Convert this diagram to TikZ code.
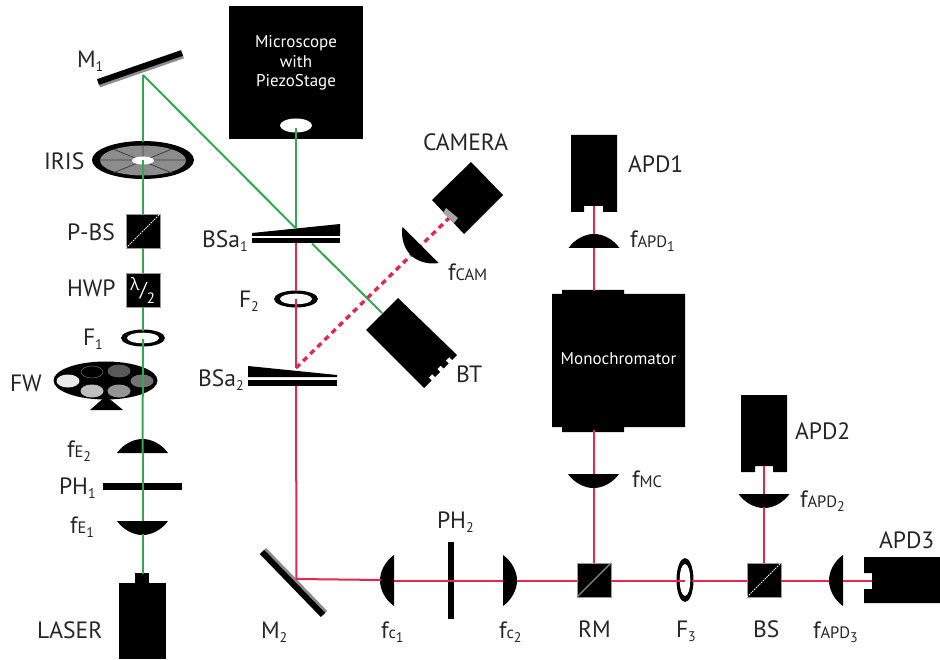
\documentclass[tikz,border=0pt]{standalone}
\usepackage{fontspec}
\setmainfont{PT Sans}
\newfontfamily\greekfont{Open Sans}
\newcommand{\sbs}[1]{\raisebox{-4pt}{\fontsize{14}{14}\selectfont #1}}
\newcommand{\smc}[1]{{\fontsize{16.5}{16}\selectfont #1}}
\newcommand{\lensat}[3]{\fill[black,shift={(#1,#2)},rotate=#3] (-25.5,0) .. controls (-19,-9) and (-9,-14) .. (0,-14) .. controls (9,-14) and (19,-9) .. (25.5,0) -- cycle;}
\newcommand{\ringat}[3]{\fill[black,shift={(#1,#2)},rotate=#3] (0,0) ellipse [x radius=22,y radius=8.5];\fill[white,shift={(#1,#2)},rotate=#3] (0,0) ellipse [x radius=16,y radius=5.3];}
\tikzset{
  every node/.style={inner sep=0pt,outer sep=0pt},
  lab/.style={anchor=base west,font=\fontsize{23.6}{24}\selectfont,text=black!85},
  wlab/.style={anchor=center,font=\fontsize{17}{19.5}\selectfont,text=white,align=center},
  cube/.style={fill=black,draw=black!40,line width=.4pt,minimum size=34pt,anchor=north west},
  green beam/.style={draw=beamgreen,line width=2pt},
  red beam/.style={draw=beamred,line width=2pt},
  filt/.style={line width=.5pt},
}
\definecolor{beamgreen}{HTML}{35A652}
\definecolor{beamred}{HTML}{E6264C}
\begin{document}
\begin{tikzpicture}[x=1pt,y=-1pt]
\path[use as bounding box,fill=white] (0,0) rectangle (940,660);

% ---- coordinates of the beam path
\coordinate (m1) at (143,75);
\coordinate (irisT) at (143,142);
\coordinate (irisC) at (143,160);
\coordinate (bt) at (382,313);
\coordinate (ms) at (295.5,128);
\coordinate (bs1a) at (295.5,228);
\coordinate (bs1b) at (296,243);
\coordinate (f2T) at (296,291);
\coordinate (f2C) at (296,299);
\coordinate (bs2a) at (296,368);
\coordinate (bs2b) at (296,386);
\coordinate (m2) at (296.5,579);
\coordinate (sensor) at (449,218);

% ---- mirrors
\draw[black!45,line width=6pt] (99,84.5) -- (183,55.5);
\draw[black,line width=6pt] (98,82) -- (182,53);
\draw[black!45,line width=6pt] (264,550) -- (325,613);
\draw[black,line width=6pt] (262,552) -- (323,615);

% ---- iris
\fill[black] (143,160) ellipse [x radius=51,y radius=19];
\fill[black!45] (143,160.5) ellipse [x radius=43,y radius=15];
\draw[black!75,line width=.8pt] (100,160)--(186,160) (143,146)--(143,175) (113,149)--(172,173) (113,173)--(172,149);
\fill[white] (143,160.5) ellipse [x radius=11,y radius=4];

% ---- cubes
\node[cube] (pbs) at (126,214) {};
\draw[white,line width=.8pt,dash pattern=on 1.5pt off 1pt] (pbs.south west) -- (pbs.north east);
\node[cube] (hwp) at (126,273) {};
\node[font=\greekfont\fontsize{17}{17}\selectfont,text=white] (lam) at (135,284) {λ};
\node[font=\fontsize{20}{20}\selectfont,text=white] (slash) at (143.5,291) {/};
\node[font=\fontsize{15}{15}\selectfont,text=white] (two) at (151,298) {2};

% ---- filter wheel
\fill[black] (90,410) -- (106,396) -- (123,410) -- cycle;
\fill[black] (105.5,380.5) ellipse [x radius=52,y radius=19];
\fill[black!8]  (68,381) ellipse [x radius=11.5,y radius=6.5];
\draw[black!55,filt,fill=black] (92,372) ellipse [x radius=11,y radius=6];
\fill[black!65] (119,371) ellipse [x radius=11.5,y radius=6.5];
\fill[black!55] (142,381) ellipse [x radius=11.5,y radius=6.5];
\fill[black!42] (119,391) ellipse [x radius=11.5,y radius=6.5];
\fill[black!25] (92,391) ellipse [x radius=11.5,y radius=6.5];

% ---- rings
\ringat{143}{338}{0}
\ringat{296}{299}{0}
\ringat{685}{580}{90}

% ---- lenses
\lensat{142.5}{453}{0}
\lensat{142.5}{521}{180}
\lensat{594}{248}{0}
\lensat{593.5}{474}{180}
\lensat{764}{494}{180}
\lensat{394}{580.5}{90}
\lensat{503}{580.5}{-90}
\lensat{843}{580.5}{90}

% ---- pinholes
\fill[black] (103,483) rectangle (182,490);
\fill[black] (448,542) rectangle (454,619);

% ---- laser
\fill[black] (119,583) rectangle (166,659);
\fill[black] (135,573) rectangle (149,584);

% ---- microscope
\fill[black] (229,6) rectangle (363,139);
\fill[white] (296,125.5) ellipse [x radius=16,y radius=7];
\node[wlab] (scope) at (296,63) {Microscope\\with\\PiezoStage};

% ---- wedges
\fill[black] (252,233) -- (340,224) -- (340,236) -- (252,236) -- cycle;
\fill[black] (252,238.5) rectangle (340,243.5);
\fill[black] (248,366) -- (337,375) -- (337,377) -- (248,377) -- cycle;
\fill[black] (248,379.5) rectangle (337,386);

% ---- dotted red beam, under camera and its lens
\draw[beamred,line width=3.4pt,dash pattern=on 5.5pt off 4.5pt] (bs2a) -- (sensor);
\lensat{420.5}{245}{135}

% ---- camera
\fill[black] (471,162) -- (503,195) -- (464,234) -- (432,200) -- cycle;
\fill[black!35] (446,208) -- (458,218) -- (454,223) -- (443,213) -- cycle;

% ---- beam tube
\fill[black] (398,298) -- (457,355) -- (452,360) -- (449.2,357.2) -- (445.7,360.7) -- (448.5,363.5) -- (443.6,368.4) -- (440.8,365.6) -- (437.2,369.2) -- (440,372) -- (435,377) -- (432.2,374.2) -- (428.7,377.7) -- (431.5,380.5) -- (424,388) -- (366,330) -- cycle;

% ---- detectors
\fill[black] (571,135) -- (617,135) -- (617,212) -- (603,212) -- (603,206) -- (584,206) -- (584,212) -- (571,212) -- cycle;
\fill[black] (741,395) -- (787,395) -- (787,472) -- (773,472) -- (773,466) -- (755,466) -- (755,472) -- (741,472) -- cycle;
\fill[black] (940,557) -- (864,557) -- (864,573) -- (872,573) -- (872,589) -- (864,589) -- (864,603) -- (940,603) -- cycle;

% ---- monochromator
\fill[black] (552,294) -- (562,294) -- (562,290) -- (624,290) -- (624,294) -- (685,294) -- (685,427) -- (624,427) -- (624,432) -- (562,432) -- (562,427) -- (552,427) -- cycle;
\node[wlab] (mono) at (618.5,359) {Monochromator};

% ---- RM and BS
\node[cube] (rm) at (577,563) {};
\draw[black!45,line width=1.4pt] (rm.south west) -- (rm.north east);
\node[cube] (bs) at (747,563) {};
\draw[white,line width=.8pt,dash pattern=on 1.5pt off 1pt] (bs.south west) -- (bs.north east);

% ---- green beam
\draw[green beam] (m1) -- (irisT);
\draw[green beam] (irisC) -- (pbs.north -| irisC);
\draw[green beam] (pbs.south -| irisC) -- (hwp.north -| irisC);
\draw[green beam] (hwp.south -| irisC) -- (143,331);
\draw[green beam] (143,339) -- (142.5,453);
\draw[green beam] (142.5,453) -- (142.5,521);
\draw[green beam] (142.5,534) -- (142.5,574);
\draw[green beam] (m1) -- (bs1a);
\draw[green beam] (312,243.5) -- (bt);
\draw[green beam] (ms) -- (bs1a);

% ---- red beam
\draw[red beam] (bs1b) -- (f2T);
\draw[red beam] (f2C) -- (bs2a);
\draw[red beam,line join=miter] (bs2b) -- (m2) -- (381,580);
\draw[red beam] (394,580.5) -- (503,580.5);
\draw[red beam] (517,580.5) -- (rm.west |- 0,580.5);
\draw[red beam] (rm.east |- 0,580.5) -- (685,580.5);
\draw[red beam] (692,580.5) -- (bs.west |- 0,580.5);
\draw[red beam] (bs.east |- 0,580.5) -- (829,580.5);
\draw[red beam] (843,580.5) -- (872,580.5);
\draw[red beam] (593.5,206) -- (593.5,234);
\draw[red beam] (593.5,248) -- (593.5,291);
\draw[red beam] (593.5,430) -- (593.5,474);
\draw[red beam] (593.5,488) -- (593.5,563);
\draw[red beam] (764,466) -- (764,494);
\draw[red beam] (764,507) -- (764,563);

% ---- labels
\node[lab] (lM1) at (77,68) {M\sbs{1}};
\node[lab] (lIRIS) at (44,170) {IRIS};
\node[lab] (lPBS) at (67,241) {P-BS};
\node[lab] (lHWP) at (67,297) {HWP};
\node[lab] (lF1) at (83,346) {F\sbs{1}};
\node[lab] (lFW) at (10,391) {FW};
\node[lab] (lfE2) at (67,457) {f\smc{E}\sbs{2}};
\node[lab] (lPH1) at (59,494) {PH\sbs{1}};
\node[lab] (lfE1) at (70,533) {f\smc{E}\sbs{1}};
\node[lab] (lLASER) at (37,638) {LASER};
\node[lab] (lBSa1) at (202,248) {BSa\sbs{1}};
\node[lab] (lF2) at (239,308) {F\sbs{2}};
\node[lab] (lBSa2) at (198,386) {BSa\sbs{2}};
\node[lab] (lCAM) at (423,151) {CAMERA};
\node[lab] (lfCAM) at (448,281) {f\smc{CAM}};
\node[lab] (lBT) at (456,382) {BT};
\node[lab] (lAPD1) at (628,173) {APD1};
\node[lab] (lfA1) at (630,248) {f\smc{APD}\sbs{1}};
\node[lab] (lfMC) at (632,487) {f\smc{MC}};
\node[lab] (lAPD2) at (795,439) {APD2};
\node[lab] (lfA2) at (800,507) {f\smc{APD}\sbs{2}};
\node[lab] (lAPD3) at (879,548) {APD3};
\node[lab] (lRM) at (578,637) {RM};
\node[lab] (lF3) at (676,637) {F\sbs{3}};
\node[lab] (lBS) at (753,637) {BS};
\node[lab] (lfA3) at (813,638) {f\smc{APD}\sbs{3}};
\node[lab] (lM2) at (261,638) {M\sbs{2}};
\node[lab] (lfc1) at (381,638) {f\smc{c}\sbs{1}};
\node[lab] (lfc2) at (499,638) {f\smc{c}\sbs{2}};
\node[lab] (lPH2) at (437,528) {PH\sbs{2}};
\end{tikzpicture}
\end{document}
